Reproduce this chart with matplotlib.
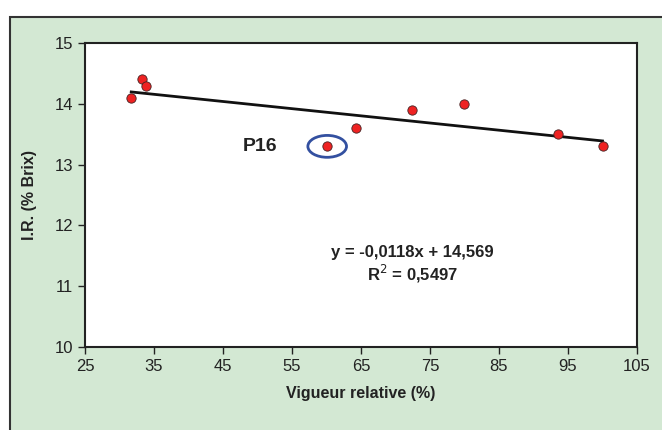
import matplotlib.pyplot as plt
import numpy as np
from matplotlib.patches import Rectangle, Ellipse

plt.rcParams['font.family'] = ['Liberation Sans', 'DejaVu Sans']

vigueur = [31.7, 33.3, 33.8, 60.1, 64.3, 72.4, 79.9, 93.6, 100.0]
brix = [14.1, 14.4, 14.3, 13.3, 13.6, 13.9, 14.0, 13.5, 13.3]
slope, intercept = -0.0118, 14.569
p16 = (60.1, 13.3)
xticks = [25, 35, 45, 55, 65, 75, 85, 95, 105]
yticks = [10, 11, 12, 13, 14, 15]

fig = plt.figure(figsize=(6.62, 4.30), dpi=100)
fig.patches.append(Rectangle((10 / 662, -0.1), 1.0, 1.1 - 17 / 430, transform=fig.transFigure,
                             facecolor='#d3e8d3', edgecolor='#333333', linewidth=1.5, zorder=-5))

ax = fig.add_axes([85 / 662, 1 - 347 / 430, 552 / 662, 304 / 430])
ax.set_zorder(2)
ax.set_facecolor('white')
ax.set_xlim(25, 105)
ax.set_ylim(10, 15)
ax.set_xticks(xticks)
ax.set_yticks(yticks)
for s in ax.spines.values():
    s.set_linewidth(1.5)
    s.set_color('#222222')
ax.tick_params(direction='out', length=5, width=1, labelsize=12, colors='#222222')

xs = np.array([min(vigueur), max(vigueur)])
ax.plot(xs, slope * xs + intercept, color='#111111', linewidth=2, zorder=2)
ax.scatter(vigueur, brix, s=45, color='#ee2222', edgecolors='#442222', linewidths=0.6, zorder=3)

ax.add_patch(Ellipse(p16, 5.6, 0.36, fill=False, edgecolor='#3350a0', linewidth=2, zorder=4))
ax.text(p16[0] - 9.8, p16[1], 'P16', fontsize=14, fontweight='bold',
        ha='center', va='center', color='#222222')

ax.text(72.5, 11.55, 'y = -0,0118x + 14,569', fontsize=12, fontweight='bold',
        ha='center', va='center', color='#222222')
ax.text(72.5, 11.2, 'R$^2$ = 0,5497', fontsize=12, fontweight='bold',
        ha='center', va='center', color='#222222')

ax.set_xlabel('Vigueur relative (%)', fontsize=11.5, fontweight='bold', labelpad=9, color='#222222')
ax.set_ylabel('I.R. (% Brix)', fontsize=11.5, fontweight='bold', labelpad=13, color='#222222')

fig.savefig('out.png', dpi=100)
